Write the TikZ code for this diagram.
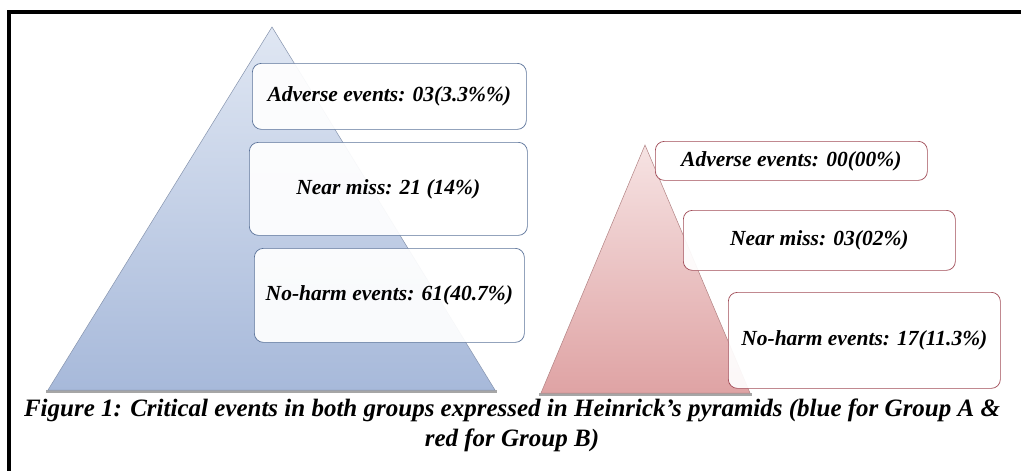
\documentclass[tikz,border=0pt]{standalone}
\usepackage{fontspec}
\setmainfont{Liberation Serif}
\usetikzlibrary{positioning}
\definecolor{pyrAtop}{HTML}{E0E7F3}
\definecolor{pyrAbot}{HTML}{A7B9DA}
\definecolor{pyrBtop}{HTML}{F6E3E3}
\definecolor{pyrBbot}{HTML}{DFA3A4}
\definecolor{blueline}{HTML}{5A7299}
\definecolor{redline}{HTML}{A04A56}

\begin{document}
\begin{tikzpicture}[x=1pt, y=-1pt,
                    main/.style = {rounded corners=9pt, fill=white, fill opacity=0.93,
                      text opacity=1, line width=0.7pt, anchor=north west,
                      font=\bfseries\itshape\fontsize{21.5}{25}\selectfont},
                    boxA/.style = {main, draw=blueline},
                    boxB/.style = {main, draw=redline}]
\useasboundingbox (0,0) rectangle (1021,471);
\fill[white] (0,0) rectangle (1021,471);
% frame
\draw[line width=4pt] (8.5,471) -- (8.5,12) -- (1021,12);
% pyramids
\fill[black!35] (46,390) -- (497,390) -- (497,393) -- (46,393) -- cycle;
\shade[top color=pyrAtop, bottom color=pyrAbot, draw=pyrAbot!80!black, line width=0.5pt]
  (272,27) -- (495,390) -- (48,390) -- cycle;
\fill[black!35] (539,393) -- (752,393) -- (752,396) -- (539,396) -- cycle;
\shade[top color=pyrBtop, bottom color=pyrBbot, draw=pyrBbot!80!black, line width=0.5pt]
  (645,145) -- (750,393) -- (541,393) -- cycle;
% group A
\node[boxA, minimum width=274pt, minimum height=66pt] (a1) at (252,63) {Adverse events: 03(3.3\%\%)};
\node[boxA, minimum width=278pt, minimum height=93pt] (a2) at (249,142) {Near miss: 21 (14\%)};
\node[boxA, minimum width=270pt, minimum height=94pt] (a3) at (254,248) {No-harm events: 61(40.7\%)};
% group B
\node[boxB, minimum width=272pt, minimum height=39pt] (b1) at (655,141) {Adverse events: 00(00\%)};
\node[boxB, minimum width=272pt, minimum height=60pt] (b2) at (683,210) {Near miss: 03(02\%)};
\node[boxB, minimum width=272pt, minimum height=96pt] (b3) at (728,292) {No-harm events: 17(11.3\%)};
% caption
\node[align=center, font=\bfseries\itshape\fontsize{25}{30}\selectfont] (cap) at (512,425)
  {Figure 1: Critical events in both groups expressed in Heinrick’s pyramids (blue for Group A \&\\ red for Group B)};
\end{tikzpicture}
\end{document}
